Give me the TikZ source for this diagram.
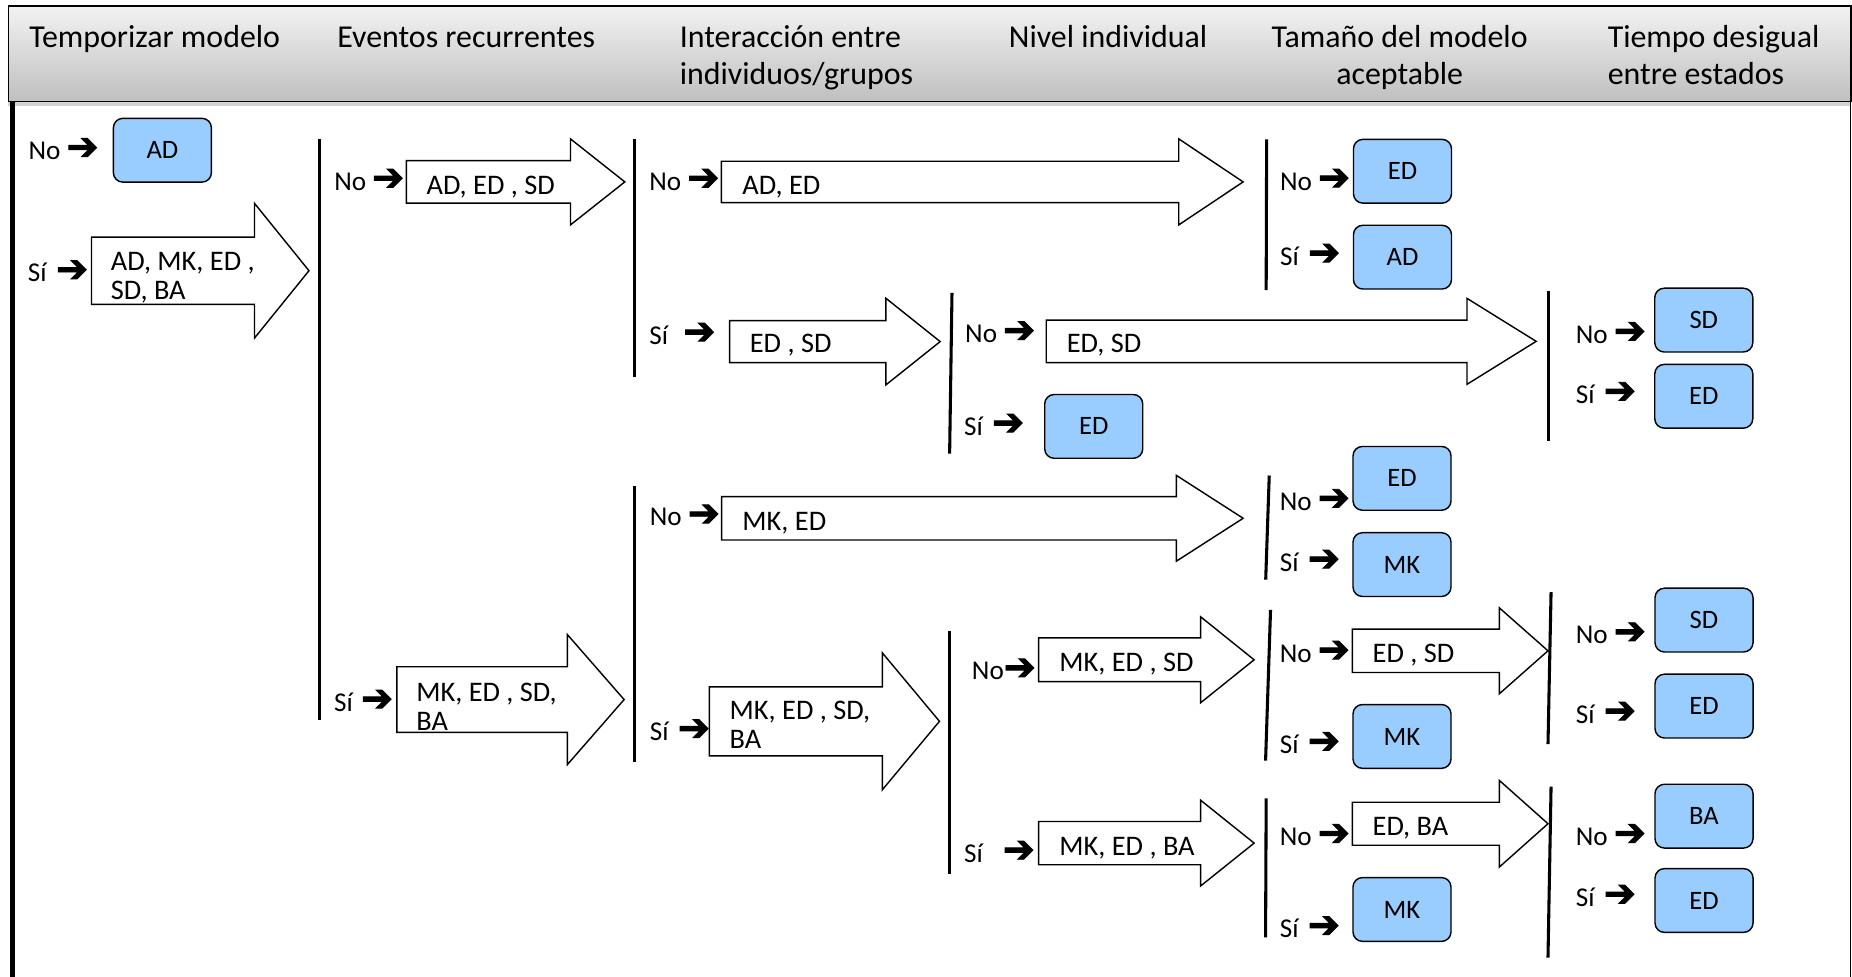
\documentclass[tikz,border=0pt]{standalone}
\usepackage{fontspec}
\usepackage{graphicx}
\setmainfont{Carlito}
\newfontfamily\symfont{DejaVu Sans}[FakeBold=2.5]
\usetikzlibrary{shadows}
\definecolor{resblue}{HTML}{99CCFF}
\newcommand{\goarrow}{\scalebox{1.4}{\symfont ➔}}
% block arrow: tail x, head x, tip x, mid y, half shaft, half head
\newcommand{\blockarrow}[6]{\draw[blk] (#1,#4-#5) -- (#2,#4-#5) -- (#2,#4-#6) -- (#3,#4) -- (#2,#4+#6) -- (#2,#4+#5) -- (#1,#4+#5) -- cycle;}

\begin{document}
\begin{tikzpicture}[x=1pt,y=-1pt]
    \tikzstyle{hdtext}=[anchor=base west, inner sep=0pt, align=left, font=\fontsize{27}{31}\selectfont]
    \tikzstyle{lbl}=[anchor=base west, inner sep=0pt, font=\fontsize{23}{25}\selectfont]
    \tikzstyle{alabel}=[anchor=base west, inner sep=0pt, align=left, font=\fontsize{24}{25}\selectfont]
    \tikzstyle{res}=[draw=black, line width=1.2pt, fill=resblue, rounded corners=8pt, minimum width=83pt, minimum height=54pt, inner sep=0pt, text height=14.5pt, text depth=0pt, font=\fontsize{22.5}{24}\selectfont]
    \tikzstyle{blk}=[draw=black, line width=1.2pt, fill=white, line join=miter]
    \tikzstyle{bar}=[line width=2.6pt]

    \useasboundingbox (0,0) rectangle (1568,827);
    \fill[white] (0,0) rectangle (1568,827);

    % header
    \node[draw=black, line width=1.3pt, top color=black!5, bottom color=black!25, minimum width=1560pt, minimum height=81pt, drop shadow={shadow xshift=0pt, shadow yshift=-4pt, opacity=0.35}] (hdr) at (787,45.5) {};
    \node[hdtext] (hd1) at (24.6,40.5) {Temporizar modelo};
    \node[hdtext] (hd2) at (285.4,40.5) {Eventos recurrentes};
    \node[hdtext] (hd3) at (575.4,71.5) {Interacción entre\\individuos/grupos};
    \node[hdtext] (hd4) at (854,40.5) {Nivel individual};
    \node[hdtext, anchor=base, align=center] (hd5) at (1185,71.5) {Tamaño del modelo\\aceptable};
    \node[hdtext] (hd6) at (1361,71.5) {Tiempo desigual\\entre estados};

    \draw[line width=4pt] (10.3,86) -- (10.3,827);
    \draw[line width=0.8pt] (1567,86) -- (1567,827);

    % Temporizar modelo
    \node[lbl] (no1) at (24,135) {No \goarrow};
    \node[res] (r1) at (137.5,127.2) {AD};
    \node[lbl] (si1) at (23.5,238.5) {Sí\hspace{8pt}\goarrow};
    \blockarrow{77.5}{215.5}{261.6}{229.2}{28.5}{57}
    \node[alabel] (a1) at (93.7,253.6) {AD, MK, ED ,\\SD, BA};

    % Eventos recurrentes
    \draw[bar] (270.6,118) -- (270.6,609.6);
    \node[lbl] (no2) at (282.8,161) {No \goarrow};
    \blockarrow{344}{483}{529}{154}{18}{36.4}
    \node[alabel] (a2) at (361,164.3) {AD, ED , SD};
    \node[lbl] (si2) at (282.7,602) {Sí\hspace{7pt}\goarrow};
    \blockarrow{336}{480.4}{528.4}{592.3}{27.8}{55}
    \node[alabel] (a3) at (352.3,618.6) {MK, ED , SD,\\BA};

    % Interaccion entre individuos/grupos
    \draw[bar] (537.5,118) -- (537.5,319);
    \node[lbl] (no3) at (549.6,161) {No \goarrow};
    \blockarrow{610.8}{998}{1052.5}{154}{17.5}{36.4}
    \node[alabel] (a4) at (628.4,165) {AD, ED};
    \node[lbl] (si3) at (549.6,291.3) {Sí\hspace{13pt}\goarrow};
    \blockarrow{617.7}{750}{796}{289.2}{17.8}{36.7}
    \node[alabel] (a5) at (634.7,298.6) {ED , SD};
    \draw[bar] (537.5,411.3) -- (537.5,645);
    \node[lbl] (no4) at (550,445.3) {No \goarrow};
    \blockarrow{611}{996}{1052.5}{438.8}{18.4}{36.3}
    \node[alabel] (a6) at (628.4,449) {MK, ED};
    \node[lbl] (si4) at (550,627) {Sí\hspace{8pt}\goarrow};
    \blockarrow{600.6}{747}{795.4}{610.7}{29.2}{58}
    \node[alabel] (a7) at (617.6,634) {MK, ED , SD,\\BA};

    % Nivel individual
    \draw[bar] (806,248) -- (804,384);
    \node[lbl] (no5) at (817,290) {No \goarrow};
    \blockarrow{885.8}{1242}{1300.6}{289}{18}{36.4}
    \node[alabel] (a8) at (903,298.6) {ED, SD};
    \node[lbl] (si5) at (816,368.3) {Sí\hspace{8pt}\goarrow};
    \node[res] (r2) at (926,361) {ED};
    \draw[bar] (804.2,534.3) -- (804.2,739.8);
    \node[lbl] (no6) at (822.7,575.5) {No\goarrow};
    \blockarrow{879.3}{1016.5}{1061.8}{558.6}{18.5}{36.4}
    \node[alabel] (a9) at (896.7,568.3) {MK, ED , SD};
    \node[lbl] (si6) at (816,729.9) {Sí\hspace{17pt}\goarrow};
    \blockarrow{879.3}{1016.5}{1061.8}{713.8}{18.3}{36.3}
    \node[alabel] (a10) at (896.7,724.2) {MK, ED , BA};

    % Tamano del modelo aceptable
    \draw[bar] (1072.4,118) -- (1072,245.6);
    \node[lbl] (no7) at (1083.6,160.9) {No \goarrow};
    \node[res] (r3) at (1187.4,145) {ED};
    \node[lbl] (si7) at (1083.6,224.4) {Sí\hspace{8pt}\goarrow};
    \node[res] (r4) at (1187.4,217.7) {AD};
    \draw[bar] (1074.6,402.6) -- (1071.6,490.8);
    \node[lbl] (no8) at (1083.4,432) {No \goarrow};
    \node[res] (r5) at (1187,405) {ED};
    \node[lbl] (si8) at (1083.4,483.5) {Sí\hspace{8pt}\goarrow};
    \node[res] (r6) at (1187,478) {MK};
    \draw[bar] (1075.7,516.3) -- (1071.5,644);
    \node[lbl] (no9) at (1083.4,560.5) {No \goarrow};
    \blockarrow{1145}{1269.5}{1310.6}{551}{18.4}{36.3}
    \node[alabel] (a11) at (1162,560.6) {ED , SD};
    \node[lbl] (si9) at (1083.4,637.8) {Sí\hspace{8pt}\goarrow};
    \node[res] (r7) at (1187,623.5) {MK};
    \draw[bar] (1072,675.9) -- (1071.5,793.7);
    \node[lbl] (no10) at (1083.4,715.8) {No \goarrow};
    \blockarrow{1145}{1269.5}{1310.6}{697.4}{18.2}{36.6}
    \node[alabel] (a12) at (1162,707) {ED, BA};
    \node[lbl] (si10) at (1083.4,793.7) {Sí\hspace{8pt}\goarrow};
    \node[res] (r8) at (1187,770) {MK};

    % Tiempo desigual entre estados
    \draw[bar] (1311,246.4) -- (1311,373);
    \node[lbl] (no11) at (1334,290.7) {No \goarrow};
    \node[res] (r9) at (1442.5,271) {SD};
    \node[lbl] (si11) at (1334,341.4) {Sí\hspace{8pt}\goarrow};
    \node[res] (r10) at (1442.5,335.5) {ED};
    \draw[bar] (1313.2,501.3) -- (1310.6,630);
    \node[lbl] (no12) at (1334,545) {No \goarrow};
    \node[res] (r11) at (1442.7,525) {SD};
    \node[lbl] (si12) at (1334,612.2) {Sí\hspace{8pt}\goarrow};
    \node[res] (r12) at (1442.7,597.8) {ED};
    \draw[bar] (1313.2,666) -- (1310.6,810.8);
    \node[lbl] (no13) at (1334,715.8) {No \goarrow};
    \node[res] (r13) at (1442.7,691) {BA};
    \node[lbl] (si13) at (1334,767.2) {Sí\hspace{8pt}\goarrow};
    \node[res] (r14) at (1442.7,762.4) {ED};
\end{tikzpicture}
\end{document}
